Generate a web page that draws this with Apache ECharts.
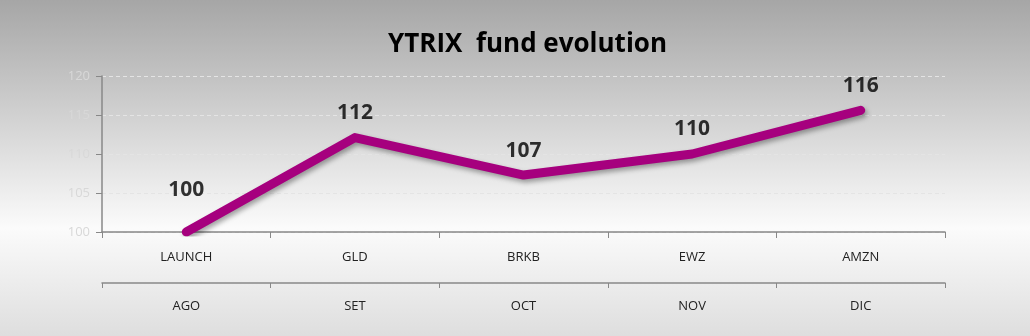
<!DOCTYPE html>
<html><head><meta charset="utf-8">
<script src="https://cdn.jsdelivr.net/npm/echarts@6/dist/echarts.min.js"></script>
<style>html,body{margin:0;padding:0;}#c{width:1030px;height:336px;}</style>
</head><body><div id="c"></div>
<script>
const titleText = 'YTRIX  fund evolution';
const tickers = ['LAUNCH', 'GLD', 'BRKB', 'EWZ', 'AMZN'];
const months = ['AGO', 'SET', 'OCT', 'NOV', 'DIC'];
const values = [100, 112.1, 107.3, 110, 115.6];
const yMin = 100, yMax = 120, yStep = 5;

const chart = echarts.init(document.getElementById('c'));
const data = values.map((v, i) => i === 0 ? {value: v, label: {distance: 30}} : v);
chart.setOption({
  backgroundColor: new echarts.graphic.LinearGradient(0, 0, 0, 1, [
    {offset: 0, color: '#a6a6a6'},
    {offset: 0.68, color: '#fbfbfb'},
    {offset: 1, color: '#dedede'}
  ]),
  title: {
    text: titleText, left: 383, top: 27,
    textStyle: {fontFamily: 'Open Sans', fontWeight: 'bold', fontSize: 26, color: '#000'}
  },
  grid: {left: 102, right: 85, top: 76, bottom: 104, containLabel: false},
  xAxis: [{
    type: 'category', data: tickers, position: 'bottom',
    axisLine: {lineStyle: {color: '#888', width: 1.5}},
    axisTick: {show: true, alignWithLabel: false, length: 6, lineStyle: {color: '#888'}},
    axisLabel: {color: '#222', fontFamily: 'Open Sans', fontSize: 13, margin: 19}
  }, {
    type: 'category', data: months, position: 'bottom', offset: 51,
    axisLine: {lineStyle: {color: '#888', width: 1.5}},
    axisTick: {show: true, length: 5, lineStyle: {color: '#888'}},
    axisLabel: {color: '#222', fontFamily: 'Open Sans', fontSize: 13, margin: 17}
  }],
  yAxis: {
    type: 'value', min: yMin, max: yMax, interval: yStep,
    axisLine: {show: true, lineStyle: {color: '#888', width: 1.5}},
    axisTick: {show: true, length: 6, lineStyle: {color: '#888'}},
    axisLabel: {color: '#d8d8d8', fontFamily: 'Open Sans', fontSize: 13, margin: 12},
    splitLine: {show: true, lineStyle: {color: '#e4e4e4', type: [4, 3], width: 1}}
  },
  series: [{
    type: 'line', data: values, xAxisIndex: 0,
    symbol: 'none',
    lineStyle: {color: '#a6007e', width: 9, cap: 'round', join: 'round',
      shadowColor: 'rgba(0,0,0,0.35)', shadowBlur: 5, shadowOffsetX: 2, shadowOffsetY: 3},
    label: {show: false},
    emphasis: {disabled: true},
    z: 2,
    animation: false
  }, {
    type: 'scatter', data: data, xAxisIndex: 0,
    symbol: 'circle', symbolSize: 2,
    itemStyle: {color: 'rgba(0,0,0,0)'},
    label: {show: true, position: 'top', distance: 13, color: '#000',
      fontFamily: 'Open Sans', fontWeight: 'bold', fontSize: 21,
      formatter: p => Math.round(p.value)},
    emphasis: {disabled: true},
    z: 3,
    animation: false
  }]
});
</script></body></html>
